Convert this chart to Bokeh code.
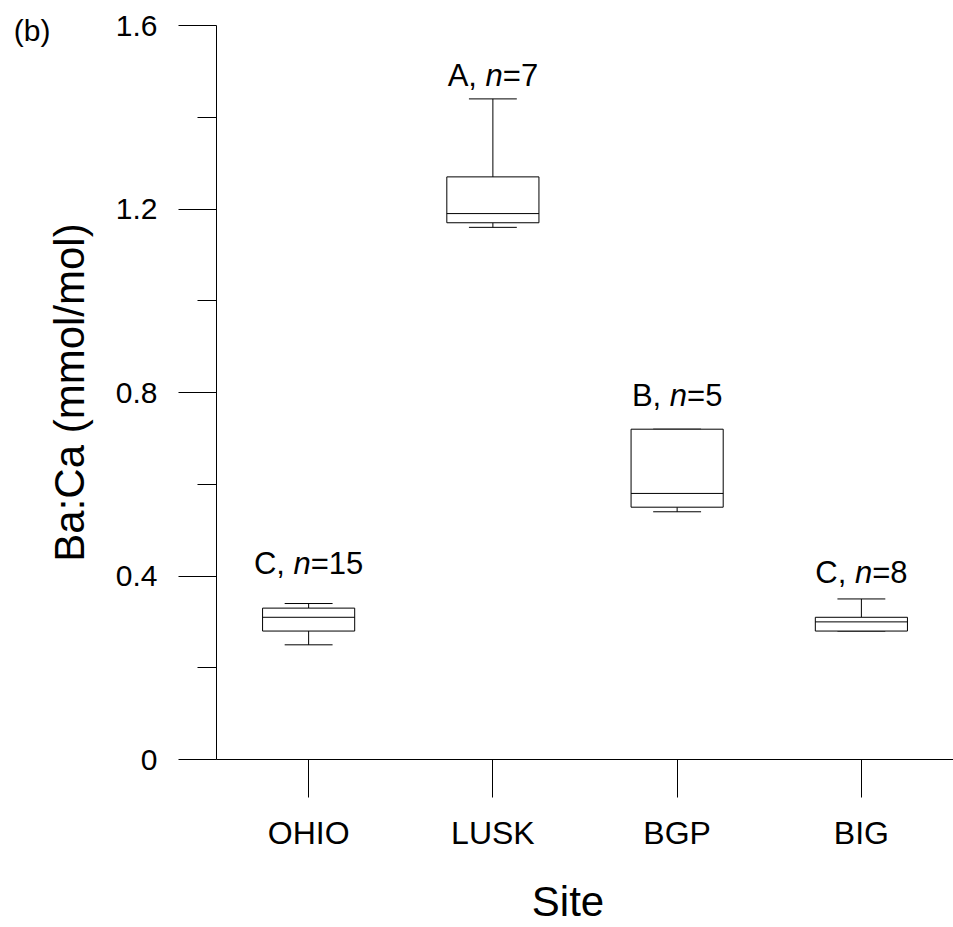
from bokeh.plotting import figure
from bokeh.models import Range1d, FixedTicker, ColumnDataSource, LinearAxis
from bokeh.core.properties import value
from bokeh.embed import file_html
from bokeh.resources import INLINE

# ---------------- data ----------------
sites = ["OHIO", "LUSK", "BGP", "BIG"]
whisker_low = [0.25, 1.16, 0.54, 0.28]
q1 = [0.28, 1.17, 0.55, 0.28]
median = [0.31, 1.19, 0.58, 0.30]
q3 = [0.33, 1.27, 0.72, 0.31]
whisker_high = [0.34, 1.44, 0.72, 0.35]
letters = ["C", "A", "B", "C"]
n_values = [15, 7, 5, 8]

y_ticks = [0, 0.4, 0.8, 1.2, 1.6]
y_tick_labels = ["0", "0.4", "0.8", "1.2", "1.6"]
y_minor_ticks = [0.2, 0.6, 1.0, 1.4]

# annotation baselines (layout)
annot_y = [0.4265, 1.4905, 0.793, 0.4075]

FONT = "Liberation Sans"
xs = [i + 1 for i in range(len(sites))]
BOX_HALF = 0.25
CAP_HALF = 0.13

p = figure(width=953, height=927, output_backend="svg", toolbar_location=None,
           x_range=Range1d(0.5, 4.5), y_range=Range1d(0, 1.6),
           min_border_left=216, min_border_right=0, min_border_top=25,
           min_border_bottom=168)
p.outline_line_color = None
p.grid.visible = False
p.background_fill_color = "white"
p.border_fill_color = "white"

# y axis
ya = p.yaxis[0]
ya.ticker = FixedTicker(ticks=y_ticks, minor_ticks=y_minor_ticks)
ya.major_label_overrides = {t: l for t, l in zip(y_ticks, y_tick_labels)}
ya.major_tick_out = 38
ya.major_tick_in = 0
ya.minor_tick_out = 19
ya.minor_tick_in = 0
ya.major_tick_line_color = "black"
ya.minor_tick_line_color = "black"
ya.axis_line_color = "black"
ya.major_label_text_font = FONT
ya.major_label_text_font_size = "30px"
ya.major_label_text_color = "black"
ya.major_label_standoff = 21
ya.axis_label = "Ba:Ca (mmol/mol)"
ya.axis_label_text_font = FONT
ya.axis_label_text_font_size = "42px"
ya.axis_label_text_font_style = "normal"
ya.axis_label_text_color = "black"
ya.axis_label_standoff = 20

# x axis
xa = p.xaxis[0]
xa.ticker = FixedTicker(ticks=xs, minor_ticks=[])
xa.major_label_overrides = {x: s for x, s in zip(xs, sites)}
xa.major_tick_out = 38
xa.major_tick_in = 0
xa.minor_tick_out = 0
xa.minor_tick_in = 0
xa.major_tick_line_color = "black"
xa.axis_line_color = "black"
xa.major_label_text_font = FONT
xa.major_label_text_font_size = "32px"
xa.major_label_text_color = "black"
xa.major_label_standoff = 17


def text_axis(pos, text, size, standoff):
    ax = LinearAxis(ticker=FixedTicker(ticks=[pos], minor_ticks=[]),
                    major_label_overrides={pos: text})
    ax.axis_line_color = None
    ax.major_tick_line_color = None
    ax.minor_tick_line_color = None
    ax.major_tick_out = 0
    ax.major_tick_in = 0
    ax.major_label_text_font = FONT
    ax.major_label_text_font_size = size
    ax.major_label_text_color = "black"
    ax.major_label_standoff = standoff
    return ax


# x-axis title "Site" (placed as an extra axis below, offset like the original)
p.add_layout(text_axis(2.408, "Site", "42px", 24), "below")
# panel letter "(b)"
p.add_layout(text_axis(1.5886, "(b)", "30px", -8), "left")

# boxes
src = ColumnDataSource(dict(
    x=xs, lo=whisker_low, q1=q1, med=median, q3=q3, hi=whisker_high,
    left=[x - BOX_HALF for x in xs], right=[x + BOX_HALF for x in xs],
    cl=[x - CAP_HALF for x in xs], cr=[x + CAP_HALF for x in xs],
))
p.segment(x0="x", y0="q3", x1="x", y1="hi", source=src, line_color="black", line_width=1)
p.segment(x0="x", y0="lo", x1="x", y1="q1", source=src, line_color="black", line_width=1)
p.segment(x0="cl", y0="hi", x1="cr", y1="hi", source=src, line_color="black", line_width=1)
p.segment(x0="cl", y0="lo", x1="cr", y1="lo", source=src, line_color="black", line_width=1)
p.quad(left="left", right="right", bottom="q1", top="q3", source=src,
       fill_color="white", line_color="black", line_width=1)
p.segment(x0="left", y0="med", x1="right", y1="med", source=src, line_color="black", line_width=1)

# annotations "X, n=NN" with italic n
ARIAL = {"A": .667, "B": .667, "C": .722, ",": .278, " ": .278, "n": .556, "=": .584}
ANN_SIZE = 31


def w(s):
    return sum(ARIAL.get(c, .556) for c in s) * ANN_SIZE


pre_off, n_off, suf_off, pre_txt, suf_txt = [], [], [], [], []
for L, n in zip(letters, n_values):
    pre = f"{L}, "
    suf = f"={n}"
    total = w(pre) + w("n") + w(suf)
    start = -total / 2
    pre_txt.append(pre)
    suf_txt.append(suf)
    pre_off.append(start)
    n_off.append(start + w(pre))
    suf_off.append(start + w(pre) + w("n"))

asrc = ColumnDataSource(dict(x=xs, y=annot_y, pre=pre_txt, suf=suf_txt,
                             po=pre_off, no=n_off, so=suf_off,
                             nn=["n"] * len(xs)))
common = dict(source=asrc, text_font=value(FONT), text_font_size=f"{ANN_SIZE}px",
              text_color="black", text_baseline="alphabetic", text_align="left")
p.text(x="x", y="y", text="pre", x_offset="po", **common)
p.text(x="x", y="y", text="nn", x_offset="no", text_font_style="italic", **common)
p.text(x="x", y="y", text="suf", x_offset="so", **common)

open("out.html", "w").write(file_html(p, INLINE))
